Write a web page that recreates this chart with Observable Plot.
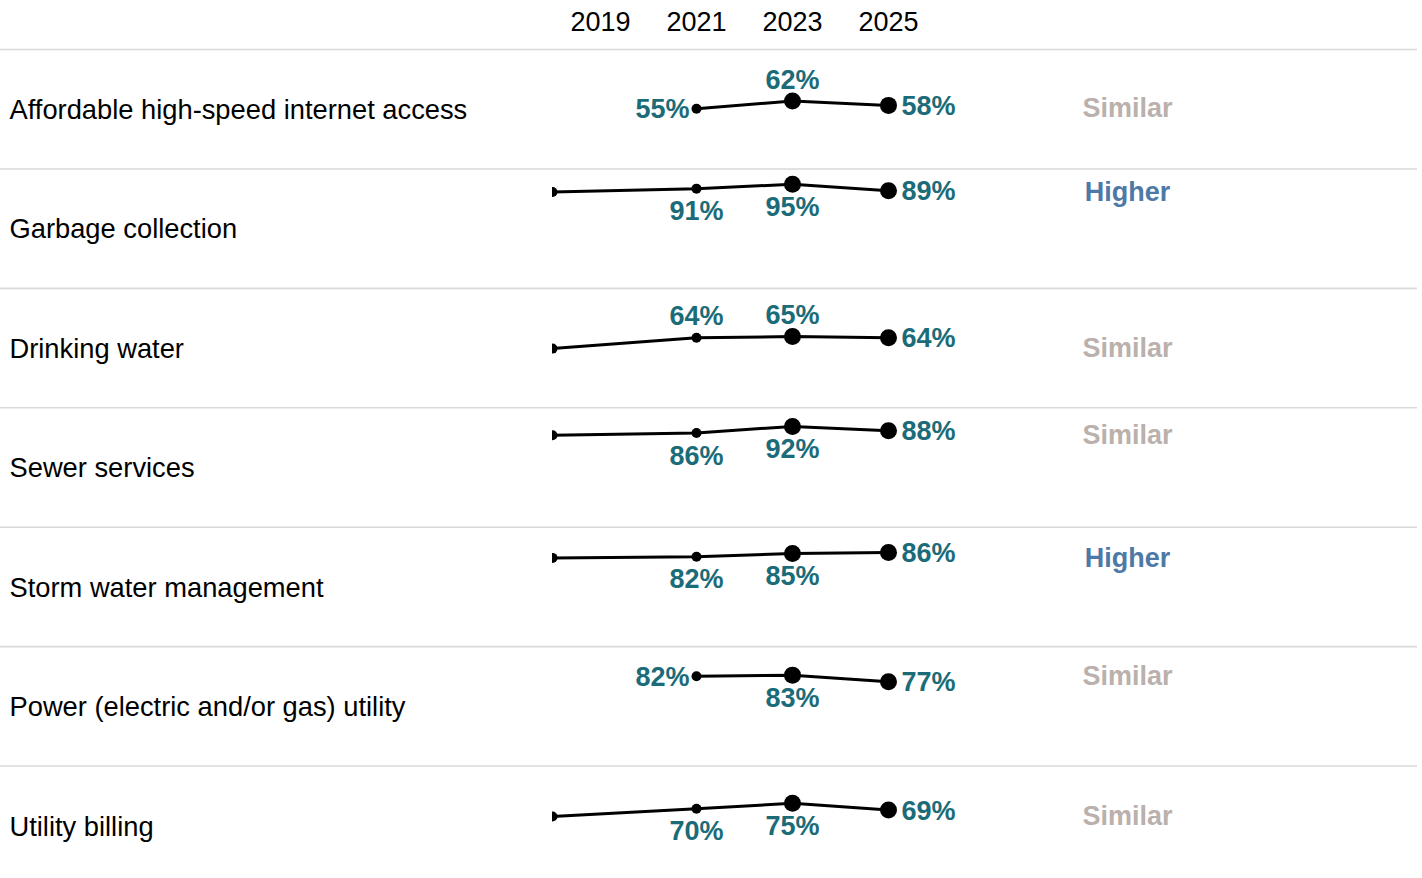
<!DOCTYPE html>
<html>
<head>
<meta charset="utf-8">
<script src="https://cdn.jsdelivr.net/npm/d3@7"></script>
<script src="https://cdn.jsdelivr.net/npm/@observablehq/plot@0.6"></script>
<style>
  html, body { margin: 0; padding: 0; background: #fff; overflow: hidden; }
  #chart svg { display: block; }
</style>
</head>
<body>
<div id="chart"></div>
<script>
// ---- data ----
const categories = [
  "Affordable high-speed internet access",
  "Garbage collection",
  "Drinking water",
  "Sewer services",
  "Storm water management",
  "Power (electric and/or gas) utility",
  "Utility billing"
];
const years = [2018, 2021, 2023, 2025];
const values2018 = [null, 88, 54, 84, 81, null, 63];
const values2021 = [55, 91, 64, 86, 82, 82, 70];
const values2023 = [62, 95, 65, 92, 85, 83, 75];
const values2025 = [58, 89, 64, 88, 86, 77, 69];
const verdicts = ["Similar", "Higher", "Similar", "Similar", "Higher", "Similar", "Similar"];
const yearTicks = [2019, 2021, 2023, 2025];

// ---- build table ----
const series = [values2018, values2021, values2023, values2025];
const rows = [];
categories.forEach((c, i) => {
  years.forEach((yr, j) => {
    const v = series[j][i];
    if (v != null) rows.push({category: c, year: yr, value: v, first: series.findIndex(s => s[i] != null) === j});
  });
});
const firstValue = categories.map((c, i) => series.map(s => s[i]).find(v => v != null));
const verdictRows = categories.map((c, i) => ({category: c, verdict: verdicts[i], value: firstValue[i]}));
const place = d => {
  if (d.year === 2018) return "none";
  if (d.year === 2025) return "right";
  if (d.first) return "left";
  return d.value < 68 ? "above" : "below";
};

const teal = "#1b6b78";
const font = "'Liberation Sans', Arial, Helvetica, sans-serif";
const yDomain = [0, 109];

const chart = Plot.plot({
  width: 1422,
  height: 885,
  marginTop: 49,
  marginBottom: 0,
  marginLeft: 552,
  marginRight: 6,
  style: {fontFamily: font, fontSize: "27px", color: "#000", background: "#fff"},
  x: {domain: [2018, 2036], axis: "top", ticks: yearTicks, tickSize: 0, tickPadding: 19, tickFormat: d => String(d), label: null},
  y: {domain: yDomain, axis: null},
  fy: {domain: categories, padding: 0, round: false, axis: null, label: null},
  marks: [
    Plot.ruleY([yDomain[1]], {stroke: "#d9d9d9", strokeWidth: 1.6, insetLeft: -552, insetRight: -1}),
    Plot.text(categories, {fy: d => d, text: d => d, frameAnchor: "left", textAnchor: "start", dx: -543, dy: 1, fill: "#000", fontSize: 27.3}),
    Plot.line(rows, {x: "year", y: "value", fy: "category", z: "category", stroke: "#000", strokeWidth: 3, clip: true}),
    Plot.dot(rows, {filter: d => d.year < 2023, x: "year", y: "value", fy: "category", r: 5, fill: "#000", clip: true}),
    Plot.dot(rows, {filter: d => d.year >= 2023, x: "year", y: "value", fy: "category", r: 8.5, fill: "#000", clip: true}),
    Plot.text(rows, {filter: d => place(d) === "right", x: "year", y: "value", fy: "category", text: d => d.value + "%", textAnchor: "start", dx: 13, dy: 1, fill: teal, fontWeight: "bold", fontSize: 27}),
    Plot.text(rows, {filter: d => place(d) === "left", x: "year", y: "value", fy: "category", text: d => d.value + "%", textAnchor: "end", dx: -7, dy: 1, fill: teal, fontWeight: "bold", fontSize: 27}),
    Plot.text(rows, {filter: d => place(d) === "above", x: "year", y: "value", fy: "category", text: d => d.value + "%", dy: -21, fill: teal, fontWeight: "bold", fontSize: 27}),
    Plot.text(rows, {filter: d => place(d) === "below", x: "year", y: "value", fy: "category", text: d => d.value + "%", dy: 23, fill: teal, fontWeight: "bold", fontSize: 27}),
    Plot.text(verdictRows, {y: "value", fy: "category", text: "verdict", frameAnchor: "right", textAnchor: "middle", dx: -289, fill: d => d.verdict === "Higher" ? "#4e79a7" : "#bab0ac", fontWeight: "bold", fontSize: 27})
  ]
});
document.getElementById("chart").appendChild(chart);
</script>
</body>
</html>
